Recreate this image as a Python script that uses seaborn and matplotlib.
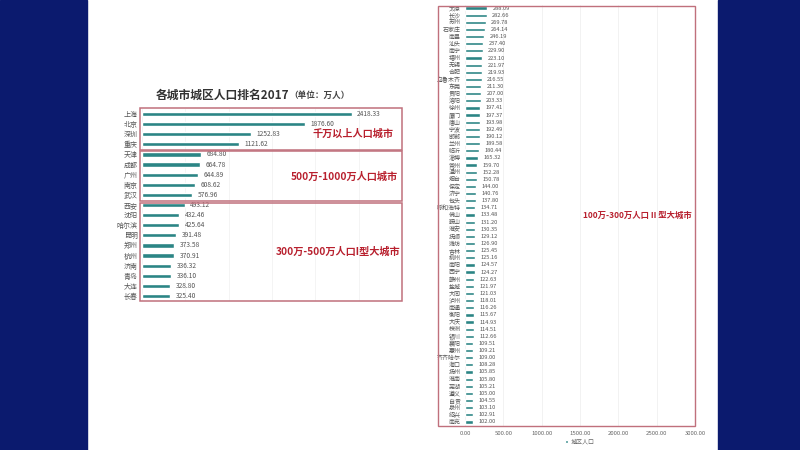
import matplotlib
matplotlib.use("Agg")
import matplotlib.pyplot as plt
from matplotlib.patches import Rectangle
import seaborn as sns
import pandas as pd

sns.set_theme(style="white")
plt.rcParams['font.family'] = ['Noto Sans CJK SC', 'DejaVu Sans']

# ---- data ----
top_cities = ["上海", "北京", "深圳", "重庆", "天津", "成都", "广州", "南京", "武汉",
              "西安", "沈阳", "哈尔滨", "昆明", "郑州", "杭州", "济南", "青岛", "大连", "长春"]
top_values = [2418.33, 1876.60, 1252.83, 1121.62, 684.80, 664.78, 644.89, 608.62, 576.96,
              493.12, 432.46, 425.64, 391.48, 373.58, 370.91, 336.32, 336.10, 328.80, 325.40]

mid_cities = ["太原", "长沙", "苏州", "石家庄", "南昌", "汕头", "南宁", "福州", "无锡", "合肥",
              "乌鲁木齐", "东莞", "贵阳", "洛阳", "徐州", "厦门", "唐山", "宁波", "邯郸", "兰州",
              "临沂", "淄博", "常州", "温州", "烟台", "保定", "济宁", "包头", "呼和浩特", "佛山",
              "鞍山", "淮安", "抚顺", "潍坊", "吉林", "柳州", "南阳", "西宁", "赣州", "盐城",
              "大同", "泸州", "南通", "衡阳", "大庆", "株洲", "银川", "襄阳", "惠州", "齐齐哈尔",
              "海口", "扬州", "淮南", "芜湖", "遵义", "自贡", "泉州", "绍兴", "南充"]
mid_values = [288.09, 282.66, 269.78, 264.14, 246.19, 237.40, 229.90, 223.10, 221.97, 219.93,
              216.55, 211.30, 207.00, 203.33, 197.41, 197.37, 193.98, 192.49, 190.12, 189.58,
              180.44, 165.32, 159.70, 152.28, 150.78, 144.00, 140.76, 137.80, 134.71, 133.48,
              131.20, 130.35, 129.12, 126.90, 125.45, 125.16, 124.57, 124.27, 122.63, 121.97,
              121.03, 118.01, 116.26, 115.67, 114.93, 114.51, 112.66, 109.51, 109.21, 109.00,
              108.28, 105.85, 105.80, 105.21, 105.00, 104.55, 103.10, 102.91, 102.00]

xticks = [0, 500, 1000, 1500, 2000, 2500, 3000]
title_main = "各城市城区人口排名2017"
title_unit = "（单位：万人）"
group_labels = ["千万以上人口城市", "500万-1000万人口城市", "300万-500万人口I型大城市", "100万-300万人口 II 型大城市"]
legend_label = "城区人口"

BAR = "#2b8585"
RED = "#b8202e"
FRAME = "#c0707c"
W, H = 800, 450

fig = plt.figure(figsize=(8, 4.5), dpi=100)
fig.patch.set_facecolor("white")

def fx(px): return px / W
def fy(py): return 1 - py / H

# blue side bands
fig.add_artist(Rectangle((0, 0), fx(87), 1, transform=fig.transFigure, color="#0b1a6e", zorder=0))
fig.add_artist(Rectangle((fx(718), 0), 1 - fx(718), 1, transform=fig.transFigure, color="#0b1a6e", zorder=0))

# ---- left chart ----
axL = fig.add_axes([fx(142), fy(301), fx(402) - fx(142), (301 - 109) / H])
dfL = pd.DataFrame({"city": top_cities, "pop": top_values})
sns.barplot(data=dfL, x="pop", y="city", ax=axL, color=BAR, width=0.42, saturation=1)
axL.set_xlim(0, 3000)
axL.set_xticks(xticks)
axL.xaxis.grid(True, color="#f2f2f2", lw=0.6)
axL.set_axisbelow(True)
axL.set_xlabel("")
axL.set_ylabel("")
axL.tick_params(axis="x", labelbottom=False, length=0)
axL.tick_params(axis="y", labelsize=5.0, labelcolor="#555555", length=0, pad=3)
for s in axL.spines.values():
    s.set_visible(False)
axL.patch.set_alpha(0)
axL.bar_label(axL.containers[0], labels=[f"{v:.2f}" for v in top_values],
              padding=4, fontsize=4.8, color="#555555")

# title
fig.text(fx(289), fy(95), title_main, ha="right", va="center", fontsize=8.5, fontweight="bold", color="#333333")
fig.text(fx(289), fy(95), title_unit, ha="left", va="center", fontsize=6.2, fontweight="bold", color="#444444")

# red boxes on left
for (y0, y1) in [(108, 149.5), (151, 201), (202.5, 300.5)]:
    fig.add_artist(Rectangle((fx(139.5), fy(y1)), fx(402) - fx(139.5), (y1 - y0) / H,
                             transform=fig.transFigure, fill=False, edgecolor=FRAME, lw=1.1, zorder=5))

fig.text(fx(353), fy(134), group_labels[0], ha="center", va="center", fontsize=7.3, fontweight="bold", color=RED)
fig.text(fx(344), fy(177), group_labels[1], ha="center", va="center", fontsize=7.3, fontweight="bold", color=RED)
fig.text(fx(338), fy(252), group_labels[2], ha="center", va="center", fontsize=7.3, fontweight="bold", color=RED)

# ---- right chart ----
axR = fig.add_axes([fx(465), fy(425.5), fx(695) - fx(465), (425.5 - 4.5) / H])
dfR = pd.DataFrame({"city": mid_cities, "pop": mid_values})
sns.barplot(data=dfR, x="pop", y="city", ax=axR, color=BAR, width=0.45, saturation=1, label=legend_label)
axR.set_xlim(0, 3000)
axR.set_xticks(xticks)
axR.set_xticklabels([f"{t:.2f}" for t in xticks])
axR.xaxis.grid(True, color="#f0f0f0", lw=0.6)
axR.set_axisbelow(True)
axR.set_xlabel("")
axR.set_ylabel("")
axR.tick_params(axis="x", labelsize=4.3, labelcolor="#666666", length=0, pad=4)
axR.tick_params(axis="y", labelsize=4.3, labelcolor="#555555", length=0, pad=3)
for s in axR.spines.values():
    s.set_visible(False)
axR.patch.set_alpha(0)
axR.bar_label(axR.containers[0], labels=[f"{v:.2f}" for v in mid_values],
              padding=4, fontsize=4.1, color="#555555")
leg = axR.legend(loc="upper center", bbox_to_anchor=(0.5, -0.02), frameon=False, fontsize=4.3,
                 handlelength=0.5, handleheight=0.5, handletextpad=0.4)
for t in leg.get_texts():
    t.set_color("#666666")

fig.add_artist(Rectangle((fx(438), fy(425.5)), fx(695) - fx(438), (425.5 - 5.5) / H,
                         transform=fig.transFigure, fill=False, edgecolor=FRAME, lw=1.0, zorder=5))
fig.text(fx(637), fy(215), group_labels[3], ha="center", va="center", fontsize=6, fontweight="bold", color=RED)

fig.savefig("out.png", dpi=100, facecolor="white")
